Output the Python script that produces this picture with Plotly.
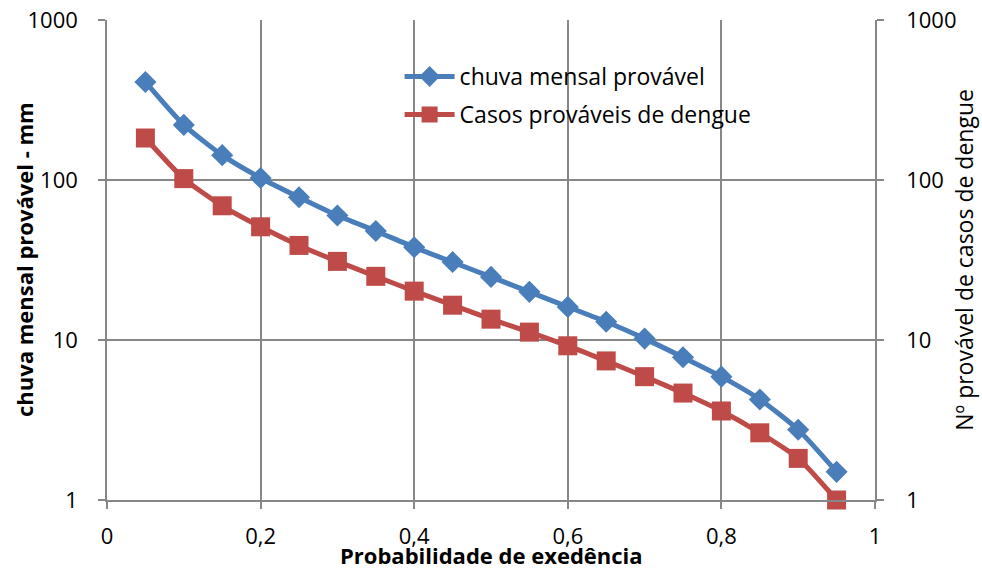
import plotly.graph_objects as go

# Exceedance probability and probable values
prob = [0.05, 0.10, 0.15, 0.20, 0.25, 0.30, 0.35, 0.40, 0.45, 0.50,
        0.55, 0.60, 0.65, 0.70, 0.75, 0.80, 0.85, 0.90, 0.95]
chuva = [410, 221, 143, 103, 78, 60, 48, 38, 30.7, 24.8,
         20, 16.1, 13, 10.2, 7.8, 5.9, 4.25, 2.75, 1.5]
casos = [183, 102, 69, 51, 39, 31, 25, 20.2, 16.5, 13.5,
         11.2, 9.2, 7.4, 5.9, 4.66, 3.6, 2.63, 1.82, 1.0]

x_ticks = [0, 0.2, 0.4, 0.6, 0.8, 1]
x_tick_text = ["0", "0,2", "0,4", "0,6", "0,8", "1"]
y_ticks = [1, 10, 100, 1000]
y_tick_text = ["1", "10", "100", "1000"]

BLUE = "#4A7EBB"
RED = "#BE4B48"
GRID = "#878787"
FONT = "Open Sans"

fig = go.Figure()
fig.add_trace(go.Scatter(
    x=prob, y=chuva, name="chuva mensal provável", mode="lines+markers",
    line=dict(color=BLUE, width=5, shape="spline", smoothing=0.6),
    marker=dict(symbol="diamond", size=17, color=BLUE),
    yaxis="y", cliponaxis=False, legendgroup="a",
))
fig.add_trace(go.Scatter(
    x=prob, y=casos, name="Casos prováveis de dengue", mode="lines+markers",
    line=dict(color=RED, width=5, shape="spline", smoothing=0.6),
    marker=dict(symbol="square", size=19, color=RED),
    yaxis="y2", cliponaxis=False, legendgroup="b",
))

axis_common = dict(
    showline=True, linecolor=GRID, linewidth=1.5,
    ticks="outside", ticklen=7, tickcolor=GRID, tickwidth=1.5,
    tickfont=dict(family=FONT, size=22, color="black"),
    automargin=False,
)

fig.update_layout(
    width=982, height=569,
    margin=dict(l=107, r=107, t=20, b=69),
    paper_bgcolor="white", plot_bgcolor="white",
    font=dict(family=FONT, color="black"),
    showlegend=True,
    legend=dict(
        x=0.381, y=0.927, xanchor="left", yanchor="top",
        bgcolor="rgba(0,0,0,0)", font=dict(family=FONT, size=23),
        traceorder="grouped", tracegroupgap=5, itemwidth=50,
    ),
    xaxis=dict(
        range=[0, 1], tickvals=x_ticks, ticktext=x_tick_text,
        showgrid=True, gridcolor=GRID, gridwidth=1.5, zeroline=False,
        ticklabelstandoff=9,
        **axis_common,
    ),
    yaxis=dict(
        type="log", range=[0, 3], tickvals=y_ticks, ticktext=y_tick_text,
        showgrid=True, gridcolor=GRID, gridwidth=1.5, zeroline=False,
        ticklabelstandoff=16,
        **axis_common,
    ),
    yaxis2=dict(
        type="log", range=[0, 3], tickvals=y_ticks, ticktext=y_tick_text,
        overlaying="y", side="right", showgrid=False, zeroline=False,
        ticklabelstandoff=18,
        **axis_common,
    ),
    annotations=[
        dict(text="<b>Probabilidade de exedência</b>", xref="paper", yref="paper",
             x=0.5, y=-0.15, xanchor="center", yanchor="bottom", showarrow=False,
             font=dict(family=FONT, size=22)),
        dict(text="<b>chuva mensal provável - mm</b>", xref="paper", yref="paper",
             x=-0.108, y=0.5, xanchor="center", yanchor="middle", showarrow=False,
             textangle=-90, font=dict(family=FONT, size=22)),
        dict(text="Nº provável de casos de dengue", xref="paper", yref="paper",
             x=1.139, y=0.5, xanchor="right", yanchor="middle", showarrow=False,
             textangle=-90, font=dict(family=FONT, size=23)),
    ],
)

fig.write_html("out.html")
